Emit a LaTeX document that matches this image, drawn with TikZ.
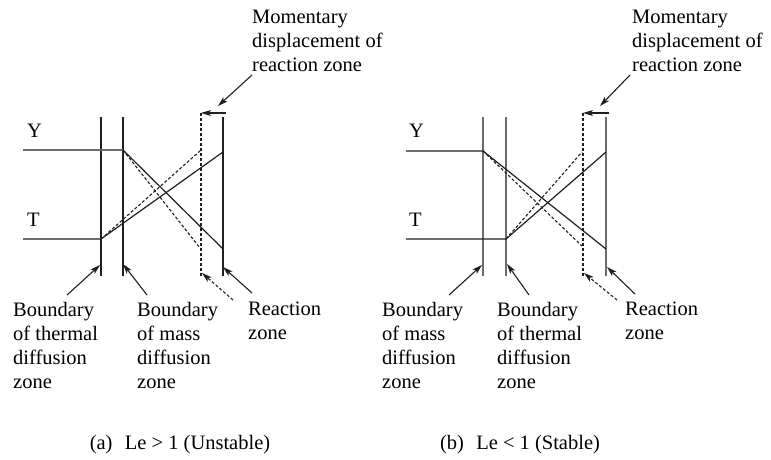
\documentclass[tikz,border=0pt]{standalone}
\usepackage{fontspec}
\setmainfont{Liberation Serif}
\usetikzlibrary{arrows.meta}
\definecolor{ink}{rgb}{0.12,0.12,0.12}
\definecolor{lightink}{rgb}{0.42,0.42,0.42}
\tikzset{
  lbl/.style={inner sep=0pt, anchor=north west, align=left, font=\fontsize{20.5}{24}\selectfont},
  captext/.style={inner sep=0pt, anchor=base, font=\fontsize{20.5}{24}\selectfont},
  axislbl/.style={inner sep=0pt, anchor=base west, font=\fontsize{20.5}{24}\selectfont},
  zone/.style={draw=ink, line width=1.3pt},
  zonegray/.style={draw=lightink, line width=1.3pt},
  prof/.style={draw=ink, line width=1.2pt},
  dprof/.style={draw=ink, line width=1.1pt, dash pattern=on 3pt off 2pt},
  arr/.style={draw=ink, line width=1.1pt, -{Stealth[length=10pt,width=6pt,inset=2.5pt]}},
  darr/.style={arr, dash pattern=on 3pt off 2pt},
}
\begin{document}
\begin{tikzpicture}[x=1pt,y=-1pt]
\useasboundingbox (0,0) rectangle (771,460);

% ================= Panel (a) =================
\coordinate (a1t) at (101,117); \coordinate (a1b) at (101,276);
\coordinate (a2t) at (123,117); \coordinate (a2b) at (123,276);
\coordinate (adt) at (201,113); \coordinate (adb) at (201,276);
\coordinate (art) at (223,117); \coordinate (arb) at (223,276);
\draw[zone] (a1t) -- (a1b);
\draw[zone] (a2t) -- (a2b);
\draw[zone, dash pattern=on 3pt off 2pt, line width=1.1pt] (adt) -- (adb);
\draw[zone] (art) -- (arb);

% profiles
\coordinate (aY0) at (23,150); \coordinate (aY1) at (123,150);
\coordinate (aY2) at (223,249); \coordinate (aYd) at (200,248);
\coordinate (aT0) at (23,239); \coordinate (aT1) at (101,239);
\coordinate (aT2) at (223,152); \coordinate (aTd) at (200,151);
\draw[zonegray] (aY0) -- (aY1);
\draw[prof] (aY1) -- (aY2);
\draw[dprof] (aY1) -- (aYd);
\draw[prof] (aT0) -- (aT1) -- (aT2);
\draw[dprof] (aT1) -- (aTd);

\node[axislbl] (aY) at (27,137) {Y};
\node[axislbl] (aT) at (27,226) {T};

% momentary displacement
\node[lbl] (amom) at (252,10) {Momentary\\displacement of\\reaction zone};
\coordinate (ahs) at (226,113);
\coordinate (ams) at (252,75); \coordinate (ame) at (218,106);
\draw[arr] (ahs) -- (adt);
\draw[arr] (ams) -- (ame);

% bottom labels
\node[lbl] (aL1) at (13,302) {Boundary\\of thermal\\diffusion\\zone};
\node[lbl] (aL2) at (137,302) {Boundary\\of mass\\diffusion\\zone};
\node[lbl] (aL3) at (248,302) {Reaction\\zone};
\coordinate (a1s) at (67,295); \coordinate (a1e) at (100,265);
\coordinate (a2s) at (147,295); \coordinate (a2e) at (123,264);
\coordinate (a3s) at (233,300); \coordinate (a3e) at (202,273);
\coordinate (a4s) at (252,293); \coordinate (a4e) at (223,267);
\draw[arr] (a1s) -- (a1e);
\draw[arr] (a2s) -- (a2e);
\draw[darr] (a3s) -- (a3e);
\draw[arr] (a4s) -- (a4e);

\node[captext] (acap) at (180,449) {(a)\hspace{0.6em}Le > 1 (Unstable)};

% ================= Panel (b) =================
\coordinate (b1t) at (483,117); \coordinate (b1b) at (483,276);
\coordinate (b2t) at (506,117); \coordinate (b2b) at (506,276);
\coordinate (bdt) at (583,113); \coordinate (bdb) at (583,276);
\coordinate (brt) at (606,117); \coordinate (brb) at (606,276);
\draw[zonegray] (b1t) -- (b1b);
\draw[zonegray] (b2t) -- (b2b);
\draw[zone, dash pattern=on 3pt off 2pt, line width=1.1pt] (bdt) -- (bdb);
\draw[zonegray] (brt) -- (brb);

\coordinate (bY0) at (406,151); \coordinate (bY1) at (483,151);
\coordinate (bY2) at (606,249); \coordinate (bYd) at (582,246);
\coordinate (bT0) at (406,239); \coordinate (bT1) at (506,239);
\coordinate (bT2) at (606,152); \coordinate (bTd) at (582,152);
\draw[prof] (bY0) -- (bY1) -- (bY2);
\draw[dprof] (bY1) -- (bYd);
\draw[prof] (bT0) -- (bT1) -- (bT2);
\draw[dprof] (bT1) -- (bTd);

\node[axislbl] (bY) at (409,137) {Y};
\node[axislbl] (bT) at (409,226) {T};

\node[lbl] (bmom) at (632,10) {Momentary\\displacement of\\reaction zone};
\coordinate (bhs) at (609,113);
\coordinate (bms) at (630,75); \coordinate (bme) at (600,106);
\draw[arr] (bhs) -- (bdt);
\draw[arr] (bms) -- (bme);

\node[lbl] (bL1) at (382,302) {Boundary\\of mass\\diffusion\\zone};
\node[lbl] (bL2) at (497,302) {Boundary\\of thermal\\diffusion\\zone};
\node[lbl] (bL3) at (625,302) {Reaction\\zone};
\coordinate (b1s) at (449,295); \coordinate (b1e) at (482,265);
\coordinate (b2s) at (529,295); \coordinate (b2e) at (507,264);
\coordinate (b3s) at (617,300); \coordinate (b3e) at (584,273);
\coordinate (b4s) at (635,294); \coordinate (b4e) at (607,267);
\draw[arr] (b1s) -- (b1e);
\draw[arr] (b2s) -- (b2e);
\draw[darr] (b3s) -- (b3e);
\draw[arr] (b4s) -- (b4e);

\node[captext] (bcap) at (520,449) {(b)\hspace{0.6em}Le < 1 (Stable)};
\end{tikzpicture}
\end{document}
